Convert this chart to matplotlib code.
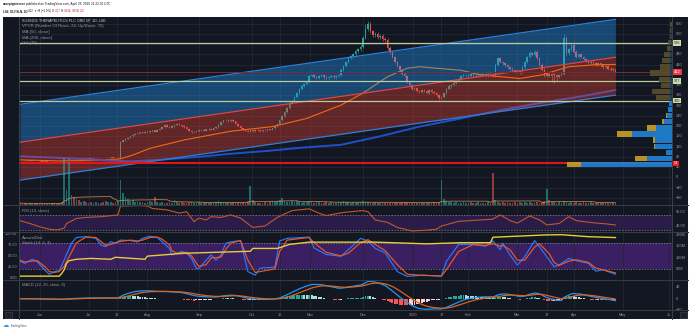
import numpy as np
import pandas as pd
import matplotlib
matplotlib.use("Agg")
import matplotlib.pyplot as plt
from matplotlib.patches import Rectangle
from matplotlib.transforms import blended_transform_factory as blend

# daily closes, mid May 2019 -> Apr 28 2020 (one per bar)
closes = [67, 68, 66, 65, 66, 64, 63, 64, 62, 61, 62, 60, 59, 60, 58, 57, 59, 58,
          66, 68,
          71, 71, 70, 72, 71, 73, 72, 74, 73, 72, 74, 75, 74, 76, 75, 74, 76, 77, 76, 75, 77,
          139,
          145, 150, 155, 160, 166, 170,
          172, 176, 174, 178, 176, 180, 184, 178,
          186, 190, 196, 204, 198, 194, 200,
          205, 210, 206, 200, 196, 190,
          182, 176, 178, 180,
          184, 186, 182, 188, 190, 186, 192, 196,
          205, 215, 222, 225, 220,
          224, 218, 210, 200, 192,
          186, 182, 178, 184, 180, 186, 183, 181, 185, 184, 188, 186, 192,
          200, 210, 222, 240, 256, 272, 290,
          300, 315, 330, 345, 356, 365, 372,
          395,
          398, 392, 388, 395, 400, 390, 386, 392, 395, 390, 396, 400,
          420, 435, 450, 466,
          472, 480, 492, 500, 510,
          545, 580, 600,
          570, 555, 560, 548, 552, 540, 536,
          505,
          488, 470, 450, 435, 418, 405, 395,
          372, 360,
          345, 350, 338, 332, 342, 336, 330, 340, 335, 328, 322, 310, 315,
          330, 345, 355, 362, 370, 378, 385,
          395, 398, 400, 396, 402, 400, 398, 404, 400, 402, 398, 405, 402, 396,
          440, 465, 450, 445,
          438, 430, 425, 418, 412, 415, 410,
          430, 450, 470, 485, 478, 490,
          465, 440, 420, 395, 405, 396,
          402, 398, 392, 400, 405,
          545, 485,
          500, 515, 490, 470, 480,
          470, 462, 455, 448, 452, 445, 440,
          446, 438, 430, 435, 425, 420, 420, 412]
first_open = 68
wick_hi = {141: 600, 142: 611, 195: 470, 208: 495, 222: 560}
wick_lo = {41: 77, 171: 302, 217: 372, 218: 370, 219: 376}

volumes = [2, 1.5, 2, 1, 2, 1.5, 1, 2, 1.5, 1,
           2, 1, 1.5, 2, 1, 1.5, 2, 3, 47, 15,
           43, 10, 8, 6, 5, 3, 4, 3, 2, 3,
           2, 3, 2, 2, 3, 4, 3, 3, 2, 3,
           4, 25, 12, 8, 6, 4, 5, 3, 4, 3,
           3, 2, 3, 4, 3, 8, 3, 2, 3, 2,
           2, 3, 2, 5, 3, 2, 3, 2, 2, 3,
           3, 2, 2, 3, 2, 2, 3, 2, 2, 2,
           3, 4, 3, 2, 3, 2, 2, 3, 2, 3,
           2, 3, 2, 4, 19, 5, 3, 2, 2, 2,
           3, 2, 3, 4, 3, 4, 5, 7, 4, 3,
           3, 4, 3, 4, 3, 2, 3, 3, 4, 3,
           2, 3, 3, 2, 2, 3, 2, 3, 2, 2,
           3, 3, 4, 3, 3, 2, 3, 2, 3, 3,
           4, 3, 3, 2, 2, 3, 2, 2, 3, 2,
           3, 2, 2, 3, 2, 2, 3, 2, 3, 2,
           2, 3, 2, 2, 3, 2, 2, 3, 2, 3,
           2, 3, 25, 6, 4, 3, 3, 2, 3, 2,
           2, 3, 2, 2, 3, 2, 2, 3, 2, 2,
           2, 3, 2, 32, 5, 3, 2, 3, 2, 3,
           2, 2, 3, 2, 3, 2, 3, 2, 3, 2,
           2, 3, 2, 3, 4, 16, 5, 3, 3, 2,
           3, 2, 4, 3, 2, 3, 2, 3, 2, 2,
           3, 2, 2, 3, 2, 2, 3, 2, 2, 3,
           2, 2, 3, 2]

ma50_bar = [0, 16, 33, 41, 46, 53, 67, 86, 103, 117, 131, 140, 150, 158, 163, 170, 180, 188, 204, 213, 224, 234, 243]
ma50_val = [68, 64, 66, 72, 87, 113, 146, 180, 198, 230, 282, 329, 393, 426, 432, 426, 418, 400, 386, 400, 432, 439, 441]
ma200_bar = [0, 16, 33, 45, 57, 73, 86, 102, 114, 131, 147, 163, 180, 196, 212, 229, 243]
ma200_val = [82, 76, 67, 62, 68, 80, 92, 104, 115, 127, 160, 198, 230, 262, 290, 316, 341]

# regression channel
chan_bar = [0, 243]
chan_mid = [137, 469]
chan_dev = 148

levels = [526, 377, 300]
poc = 54
last_price = 412

# volume profile, 24 rows from 40 to 611
vp_low, vp_step = 40, 23.8
vp_up = [91, 25, 6, 17, 17, 40, 16, 8, 5, 4, 3, 2, 2, 2, 2, 2, 2, 2, 2, 1, 1, 1, 1, 0.5]
vp_down = [14, 12, 0.5, 1, 2, 15, 9, 2.3, 1, 0.5, 0.5, 14, 18, 9, 11, 20, 10, 8, 6, 4, 3, 1.5, 1.5, 1.5]
vp_value_rows = 11

rsi_bar = [0, 4, 8, 12, 15, 18, 19, 23, 27, 33, 40, 41, 49, 52, 54, 60, 65, 68, 70, 71,
           73, 76, 78, 82, 86, 90, 95, 100, 105, 111, 118, 122, 125, 132, 140, 142, 145, 150, 154, 160,
           165, 170, 172, 179, 188, 193, 196, 200, 203, 208, 212, 215, 220, 224, 227, 234, 239, 243]
rsi_val = [55, 47, 38, 31, 29, 34, 47, 61, 64, 66, 71, 96, 97, 96, 89, 85, 76, 80, 62, 52,
           62, 57, 66, 64, 71, 62, 36, 40, 64, 83, 88, 76, 69, 78, 83, 80, 57, 50, 36, 26,
           28, 31, 40, 53, 57, 59, 71, 55, 48, 68, 57, 43, 47, 66, 55, 49, 46, 43]

k_bar = [0, 2, 5, 7, 10, 12, 14, 16, 18, 21, 23, 27, 31, 33, 35, 37, 39, 41, 45, 48,
         50, 53, 56, 58, 61, 62, 64, 66, 68, 70, 72, 73, 76, 78, 80, 82, 84, 86, 90, 93,
         96, 98, 104, 106, 109, 118, 120, 125, 131, 134, 139, 142, 145, 149, 154, 158, 165, 172, 174, 179,
         185, 190, 193, 196, 197, 200, 203, 206, 210, 212, 216, 218, 220, 224, 227, 232, 235, 238, 243]
k_val = [37, 33, 42, 37, 18, 8, 14, 16, 40, 79, 92, 94, 90, 75, 71, 82, 79, 86, 85, 82,
         90, 95, 92, 82, 67, 52, 56, 60, 56, 44, 21, 21, 40, 52, 40, 52, 79, 82, 85, 14,
         6, 22, 24, 84, 90, 93, 68, 53, 49, 64, 90, 84, 67, 57, 14, 3, 6, 3, 37, 76,
         76, 72, 84, 64, 79, 52, 29, 48, 85, 71, 40, 25, 29, 44, 39, 33, 15, 18, 8]
d_val = [40, 36, 38, 39, 26, 14, 12, 14, 26, 58, 80, 93, 92, 83, 74, 76, 80, 83, 86, 84,
         86, 92, 93, 88, 75, 62, 56, 57, 58, 50, 33, 26, 30, 45, 46, 47, 65, 79, 85, 40,
         12, 14, 20, 60, 86, 92, 80, 58, 50, 56, 80, 87, 76, 62, 30, 8, 5, 4, 18, 60,
         76, 74, 78, 72, 74, 64, 40, 40, 70, 78, 55, 35, 28, 38, 41, 35, 22, 18, 11]

ad_bar = [0, 16, 17, 18, 19, 20, 23, 29, 37, 39, 51, 52, 58, 67, 86, 94, 95, 105, 110, 118,
          145, 166, 180, 192, 193, 214, 221, 232, 243]
ad_val = [55, 55, 64, 77, 100, 109, 114, 117, 114, 121, 114, 125, 129, 135, 140, 142, 152, 152, 166, 174,
          174, 168, 172, 172, 191, 199, 200, 193, 190]

tick_bar = [8, 28, 39.5, 52, 73, 94.5, 106, 118.5, 140, 160.5, 172, 183, 203, 215, 226, 246, 265]
tick_lab = ['Jun', 'Jul', '16', 'Aug', 'Sep', 'Oct', '16', 'Nov', 'Dec', '2020', '17', 'Feb',
            'Mar', '17', 'Apr', 'May', 'Ju']
price_ticks = [600, 560, 480, 440, 360, 320, 280, 240, 200, 160, 120, 80, 40, 0, -40, -80]

# ---------------------------------------------------------------------------
W, H = 690, 332
BG = '#131722'
GRID = '#232733'
SEP = '#363a45'
TXT = '#9598a1'
FONT = ['Liberation Sans', 'DejaVu Sans']
FS = 2.8
XL = (-0.41, 266.1)
UP, DN = '#26a69a', '#ef5350'

fig = plt.figure(figsize=(W / 100, H / 100), dpi=100)
fig.patch.set_facecolor('white')
fig.add_artist(Rectangle((3 / W, 1 - 319 / H), 685 / W, 302 / H, transform=fig.transFigure,
                         fc=BG, ec='none', zorder=-10))
renderer = fig.canvas.get_renderer()


def px_axes(x0, y0, x1, y1, ylim):
    ax = fig.add_axes([x0 / W, 1 - y1 / H, (x1 - x0) / W, (y1 - y0) / H])
    ax.set_axis_off()
    ax.set_xlim(XL)
    ax.set_ylim(ylim)
    return ax


def vgrid(ax):
    for tb in tick_bar:
        ax.axvline(tb, color=GRID, lw=0.6, zorder=0.5)


def rlabel(ax, v, s, x=1.006):
    ax.text(x, v, s, transform=blend(ax.transAxes, ax.transData), fontsize=FS, color=TXT,
            va='center', ha='left', family=FONT, clip_on=False)


def box(ax, v, s, fc, tc):
    ax.text(1.003, v, s, transform=blend(ax.transAxes, ax.transData), fontsize=FS, color=tc,
            va='center', ha='left', family=FONT, clip_on=False, zorder=20,
            bbox=dict(boxstyle='square,pad=0.25', fc=fc, ec='none'))


def ptext(xp, yp, s, col=TXT, width=None, weight='normal'):
    # label at pixel position; optionally squeezed to the width seen on the chart
    t = fig.text(xp / W, 1 - yp / H, s, fontsize=FS, color=col, va='center', ha='left',
                 family=FONT, fontweight=weight)
    if width:
        w = t.get_window_extent(renderer).width
        t.set_fontsize(FS * width / w)
    return t


# ---------------- price panel ----------------
ax_p = px_axes(19, 17, 672, 205, (-108.2, 626.2))
vgrid(ax_p)
for v in range(-80, 601, 40):
    ax_p.axhline(v, color=GRID, lw=0.6, zorder=0.5)

c = np.array(closes, dtype=float)
n = len(c)
x = np.arange(n)
o = np.r_[first_open, c[:-1]]
up = c >= o
cols = np.where(up, UP, DN)
hi = np.maximum(o, c) * 1.012
lo = np.minimum(o, c) * 0.988
for k, v in wick_hi.items():
    hi[k] = v
for k, v in wick_lo.items():
    lo[k] = v
ax_p.vlines(x, lo, hi, colors=cols, lw=0.45, zorder=2)
ax_p.bar(x, np.maximum(np.abs(c - o), 2.0), bottom=np.minimum(o, c), width=0.62,
         color=cols, lw=0, zorder=2.1)

ax_p.plot(ma50_bar, ma50_val, color='#f57c00', lw=0.8, zorder=3)
ax_p.plot(ma200_bar, ma200_val, color='#1f50cc', lw=1.4, zorder=3)

cb = np.array(chan_bar, dtype=float)
cm = np.array(chan_mid, dtype=float)
ax_p.fill_between(cb, cm, cm + chan_dev, color='#2196f3', alpha=0.38, lw=0, zorder=4)
ax_p.fill_between(cb, cm - chan_dev, cm, color='#f44336', alpha=0.35, lw=0, zorder=4)
ax_p.plot(cb, cm + chan_dev, color='#2a7fd8', lw=0.9, zorder=5)
ax_p.plot(cb, cm, color='#e0443c', lw=0.9, zorder=5)
ax_p.plot(cb, cm - chan_dev, color='#2a7fd8', lw=0.9, zorder=5)

for v in levels:
    ax_p.axhline(v, color='#b8cc9e', lw=0.9, zorder=6)
ax_p.axhline(last_price, color='#7d2a33', lw=0.7, zorder=6)
ax_p.axhline(poc, color='#e8141c', lw=1.4, zorder=6)

for v in price_ticks:
    rlabel(ax_p, v, str(v).replace('-', '\u2212'))
for v in levels:
    box(ax_p, v, str(v), '#c5deab', '#1c2b12')
box(ax_p, last_price, str(last_price), '#f23645', 'white')
box(ax_p, poc, str(poc), '#ff1a1a', 'white')

# volume overlay
ax_v = px_axes(19, 17, 672, 205, (0, 188))
vol = np.array(volumes, dtype=float)
ax_v.bar(x, vol, width=0.7, color=cols, alpha=0.6, lw=0)
ax_v.plot(x, pd.Series(vol).rolling(20, min_periods=1).mean(), color='#c98a4b', lw=0.6, alpha=0.9)

# volume profile overlay
ax_vp = px_axes(19, 17, 672, 205, (-108.2, 626.2))
ax_vp.set_xlim(653, 0)
rows = vp_low + vp_step * np.arange(len(vp_up))
inside = np.arange(len(vp_up)) < vp_value_rows
upc = np.where(inside, '#2184d6', '#22415f')
dnc = np.where(inside, '#c9a028', '#5a4e2e')
ax_vp.barh(rows, vp_up, height=vp_step * 0.86, left=0, align='edge', color=upc, alpha=0.9, lw=0)
ax_vp.barh(rows, vp_down, height=vp_step * 0.86, left=vp_up, align='edge', color=dnc, alpha=0.9, lw=0)

ptext(22, 20.5, 'SILENCE THERAPEUTICS PLC ORD 5P, 1D, LSE', '#d1d4dc', width=86)
ptext(22, 26, 'VPVR (Number Of Rows, 24, Up/Down, 70)', width=82)
ptext(22, 31.7, 'MA (50, close)', width=28)
ptext(22, 37.5, 'MA (200, close)', width=31)
ptext(22, 43.2, 'Vol (20)', width=15)

# ---------------- RSI ----------------
ax_r = px_axes(19, 205, 672, 232, (23.2, 98.7))
vgrid(ax_r)
ax_r.axhspan(30, 70, color='#2a1c48', lw=0, zorder=0.4)
for v in (70, 30):
    ax_r.axhline(v, color='#8a8d96', lw=0.5, ls=(0, (2, 2)), zorder=1)
ax_r.plot(rsi_bar, rsi_val, color='#c2572b', lw=0.8, zorder=3)
rlabel(ax_r, 80, '80.00')
rlabel(ax_r, 40, '40.00')
ptext(22, 210.7, 'RSI (14, close)', width=28)

# ---------------- Stoch + Accum/Dist ----------------
ax_s = px_axes(19, 232, 672, 280, (-5.3, 104.6))
vgrid(ax_s)
ax_s.axhspan(20, 80, color='#3b1f63', lw=0, zorder=0.4)
for v in (80, 20):
    ax_s.axhline(v, color='#8a8d96', lw=0.5, ls=(0, (2, 2)), zorder=1)
ax_s.plot(k_bar, k_val, color='#2979ff', lw=0.85, zorder=3)
ax_s.plot(k_bar, d_val, color='#e8592b', lw=0.85, zorder=3)
for v, s in zip([100, 75, 50, 25, 0], ['100.00', '75.00', '50.00', '25.00', '0.00']):
    ax_s.text(-0.003, v, s, transform=blend(ax_s.transAxes, ax_s.transData), fontsize=FS,
              color=TXT, va='center', ha='right', family=FONT, clip_on=False)
ax_ad = px_axes(19, 232, 672, 280, (41.5, 209.4))
ax_ad.plot(ad_bar, ad_val, color='#e9cc3b', lw=1.0, zorder=4)
for v in (200, 160, 120, 80):
    rlabel(ax_ad, v, f'{v}M')
ptext(22, 237.7, 'Accum/Dist', width=21)
ptext(22, 243.3, 'Stoch (14, 3, 3)', width=29)

# ---------------- MACD ----------------
ax_m = px_axes(19, 280, 672, 310, (-40, 66.2))
vgrid(ax_m)
s = pd.Series(c)
macd = s.ewm(span=12, adjust=False).mean() - s.ewm(span=26, adjust=False).mean()
sig = macd.ewm(span=9, adjust=False).mean()
hist = (macd - sig).values
prev = np.r_[0, hist[:-1]]
hcol = np.where(hist >= 0, np.where(hist >= prev, '#26a69a', '#b2dfdb'),
                np.where(hist < prev, '#ff5252', '#ffcdd2'))
ax_m.bar(x, hist, width=0.8, color=hcol, lw=0, zorder=2)
ax_m.plot(x, macd, color='#2196f3', lw=0.9, zorder=3)
ax_m.plot(x, sig, color='#d8641e', lw=0.9, zorder=3)
rlabel(ax_m, 40, '40')
rlabel(ax_m, 0, '0')
rlabel(ax_m, -40, '\u221240')
ptext(22, 285, 'MACD (12, 26, close, 9)', width=44)

# ---------------- time axis ----------------
ax_t = px_axes(19, 310, 672, 319, (0, 1))
for tb, lab in zip(tick_bar, tick_lab):
    ax_t.text(tb, 0.45, lab, fontsize=FS, color=TXT, ha='center', va='center', family=FONT)

# panel separators and borders
for yp in (205, 232, 280, 310):
    fig.add_artist(plt.Line2D([3 / W, 688 / W], [1 - yp / H] * 2, color=SEP, lw=0.8))
for xp in (19, 672):
    fig.add_artist(plt.Line2D([xp / W] * 2, [1 - 17 / H, 1 - 319 / H], color='#3d414c', lw=0.7))
for xp in (5, 680):
    fig.add_artist(Rectangle((xp / W, 1 - 318 / H), 7 / W, 6 / H, transform=fig.transFigure,
                             fc='#1e222d', ec='#434651', lw=0.4))


# ---------------- header / footer ----------------
def seq(xp, yp, parts, width):
    arts = []
    for txt, col, wt in parts:
        arts.append(fig.text(0, 1 - yp / H, txt, fontsize=FS, color=col, fontweight=wt,
                             va='center', ha='left', family=FONT))
    total = sum(a.get_window_extent(renderer).width for a in arts)
    for a in arts:
        a.set_fontsize(FS * width / total)
    for a in arts:
        a.set_x(xp / W)
        xp += a.get_window_extent(renderer).width


dark = '#131722'
red = '#e0282e'
seq(2.7, 4.5, [('savepigsinvest', dark, 'bold'),
               (' published on TradingView.com, April 28, 2020 21:22:02 UTC', dark, 'normal')], 108)
seq(2.7, 11, [('LSE_DLY:SLN, 1D ', dark, 'bold'), ('412 ', dark, 'normal'),
              ('\u25bc ', red, 'normal'), ('\u22128 (\u22121.9%) ', dark, 'normal'),
              ('O:', dark, 'normal'), ('417 ', red, 'normal'),
              ('H:', dark, 'normal'), ('434 ', red, 'normal'),
              ('L:', dark, 'normal'), ('405 ', red, 'normal'),
              ('C:', dark, 'normal'), ('412', red, 'normal')], 85)
fig.text(3 / W, 1 - 325.5 / H, '\u2601', fontsize=4.5, color='#2196f3', va='center', ha='left',
         family=['DejaVu Sans'])
ptext(11, 325.5, 'TradingView', '#50535e', width=16)

fig.savefig('out.png', dpi=100, facecolor='white')
